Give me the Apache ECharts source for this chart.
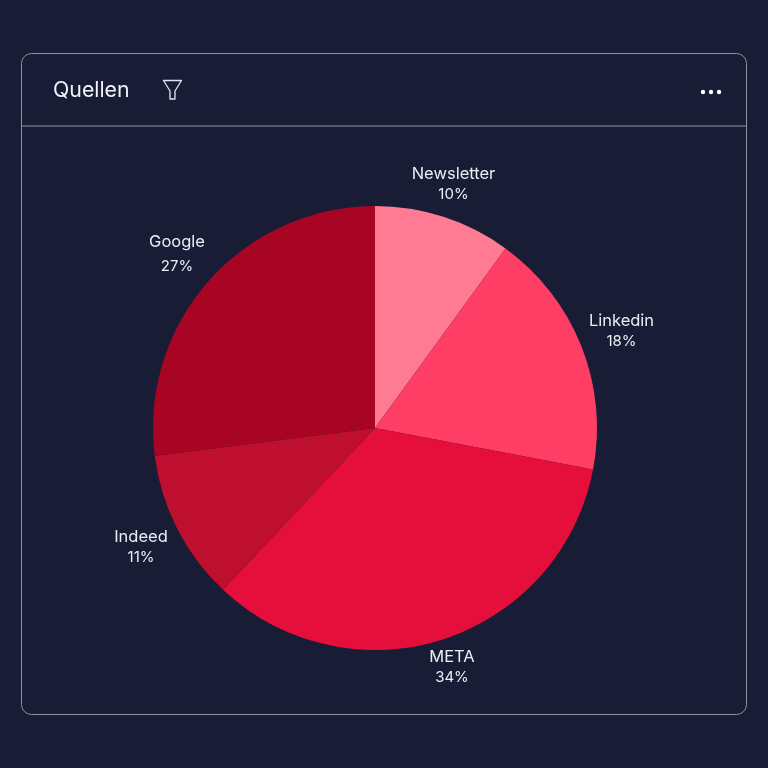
<!DOCTYPE html>
<html><head><meta charset="utf-8">
<style>html,body{margin:0;padding:0;background:#181c35}#c{width:768px;height:768px}</style>
<script src="https://cdn.jsdelivr.net/npm/echarts@6/dist/echarts.min.js"></script>
</head><body><div id="c"></div>
<script>
const categories = ['Newsletter','Linkedin','META','Indeed','Google'];
const values = [10,18,34,11,27];
const colors = ['#ff7a93','#ff3e66','#e60f3c','#bf0f2e','#a80524'];
const labelCenters = [[453.5,184.5],[621.5,331],[452,667.5],[141,547.5],[177,254]];
const lineHeights = [20,20,20,20,24];
const chart = echarts.init(document.getElementById('c'),null,{renderer:'canvas'});
const line = '#8f92a6';
chart.setOption({
  backgroundColor:'#181c35',
  animation:false,
  graphic:[
    {type:'rect',shape:{x:21.5,y:53.5,width:725,height:661,r:10},style:{fill:'transparent',stroke:line,lineWidth:1}},
    {type:'line',shape:{x1:22,y1:126,x2:746,y2:126},style:{stroke:line,lineWidth:1}},
    {type:'text',x:53,y:91,style:{text:'Quellen',fill:'#f2f3f7',font:'400 21.3px Inter',textVerticalAlign:'middle'}},
    {type:'polygon',shape:{points:[[163.5,80.5],[181.5,80.5],[175,91],[175,99],[170,99],[170,91]]},style:{fill:'transparent',stroke:'#e4e5ec',lineWidth:1.3,lineJoin:'round'}},
    {type:'circle',shape:{cx:703,cy:92,r:2.2},style:{fill:'#ffffff'}},
    {type:'circle',shape:{cx:711,cy:92,r:2.2},style:{fill:'#ffffff'}},
    {type:'circle',shape:{cx:719,cy:92,r:2.2},style:{fill:'#ffffff'}}
  ],
  series:[{
    type:'pie',
    center:[375,428],
    radius:[0,222],
    startAngle:90,
    clockwise:true,
    avoidLabelOverlap:false,
    data:categories.map((n,i)=>({name:n,value:values[i],
      itemStyle:{color:colors[i]},
      label:{rich:{
        n:{fontFamily:'Inter',fontSize:16.5,color:'#eceef4',lineHeight:lineHeights[i]},
        p:{fontFamily:'Inter',fontSize:15,color:'#eceef4',lineHeight:lineHeights[i]}
      }}})),
    label:{show:true,position:'outside',formatter:'{n|{b}}\n{p|{d}%}',align:'center',verticalAlign:'middle'},
    labelLine:{show:false},
    labelLayout:p=>({x:labelCenters[p.dataIndex][0],y:labelCenters[p.dataIndex][1],align:'center',verticalAlign:'middle'}),
    emphasis:{disabled:true}
  }]
});
</script></body></html>
